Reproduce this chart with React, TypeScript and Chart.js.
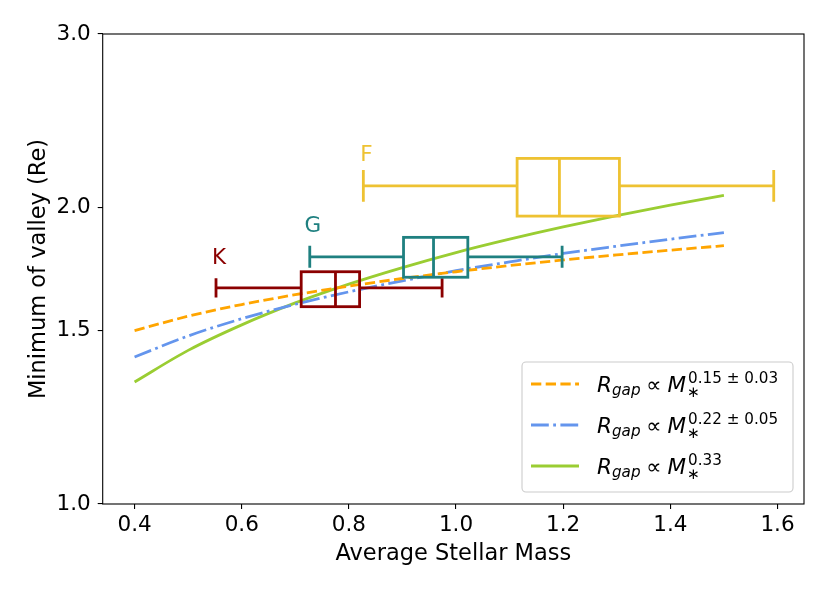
import React, { useEffect, useRef } from 'react';
import { Chart, registerables } from 'chart.js';
import type { Plugin } from 'chart.js';

Chart.register(...registerables);

// fit curves, sampled at these masses
const massSamples = [0.4, 0.5, 0.6, 0.7, 0.8, 0.9, 1.0, 1.1, 1.2, 1.3, 1.4, 1.5];
const fit015 = [1.500, 1.551, 1.594, 1.631, 1.664, 1.694, 1.721, 1.746, 1.769, 1.790, 1.810, 1.829];
const fit022 = [1.410, 1.481, 1.542, 1.595, 1.642, 1.685, 1.725, 1.761, 1.796, 1.827, 1.857, 1.886];
const fit033 = [1.330, 1.432, 1.520, 1.600, 1.672, 1.738, 1.800, 1.857, 1.911, 1.962, 2.011, 2.057];

const legendExponents = ['0.15 \u00b1 0.03', '0.22 \u00b1 0.05', '0.33'];

// horizontal box plots per spectral type
const boxLabels = ['K', 'G', 'F'];
const boxColors = ['#8B0000', '#1F8080', '#EEC232'];
const whiskerLow = [0.552, 0.727, 0.827];
const q1 = [0.711, 0.902, 1.114];
const median = [0.775, 0.958, 1.193];
const q3 = [0.820, 1.022, 1.305];
const whiskerHigh = [0.974, 1.198, 1.593];
const boxCenter = [1.657, 1.782, 2.104];
const boxTop = [1.721, 1.865, 2.243];
const boxBottom = [1.586, 1.699, 1.960];

const xTicks = [0.4, 0.6, 0.8, 1.0, 1.2, 1.4, 1.6];
const yTicks = [1.0, 1.5, 2.0, 3.0];

const FONT = '"DejaVu Sans", sans-serif';
const ORANGE = '#FFA500';
const BLUE = '#6495ED';
const GREEN = '#9ACD32';

const toPoints = (ys: number[]) => massSamples.map((x, i) => ({ x, y: ys[i] }));

const boxPlugin: Plugin<'line'> = {
  id: 'boxes',
  afterDatasetsDraw(chart) {
    const { ctx, scales } = chart;
    const x = scales.x;
    const y = scales.y;
    ctx.save();
    ctx.lineWidth = 2.8;
    ctx.lineCap = 'butt';
    ctx.lineJoin = 'miter';
    boxLabels.forEach((label, i) => {
      const yc = y.getPixelForValue(boxCenter[i]);
      const yt = y.getPixelForValue(boxTop[i]);
      const yb = y.getPixelForValue(boxBottom[i]);
      const capHalf = ((yb - yt) / 2) * 0.55;
      const xl = x.getPixelForValue(whiskerLow[i]);
      const x1 = x.getPixelForValue(q1[i]);
      const xm = x.getPixelForValue(median[i]);
      const x3 = x.getPixelForValue(q3[i]);
      const xh = x.getPixelForValue(whiskerHigh[i]);
      ctx.strokeStyle = boxColors[i];
      ctx.beginPath();
      ctx.moveTo(xl, yc); ctx.lineTo(x1, yc);
      ctx.moveTo(x3, yc); ctx.lineTo(xh, yc);
      ctx.moveTo(xl, yc - capHalf); ctx.lineTo(xl, yc + capHalf);
      ctx.moveTo(xh, yc - capHalf); ctx.lineTo(xh, yc + capHalf);
      ctx.moveTo(xm, yt); ctx.lineTo(xm, yb);
      ctx.stroke();
      ctx.strokeRect(x1, yt, x3 - x1, yb - yt);

      // type label just above the left cap
      ctx.fillStyle = boxColors[i];
      ctx.font = `21.5px ${FONT}`;
      ctx.textAlign = 'center';
      ctx.textBaseline = 'middle';
      ctx.fillText(label, xl + 3, yc - 30);
    });
    ctx.restore();
  },
};

const framePlugin: Plugin<'line'> = {
  id: 'frame',
  afterDraw(chart) {
    const { ctx, chartArea: a } = chart;
    ctx.save();
    ctx.strokeStyle = '#000';
    ctx.lineWidth = 1.1;
    ctx.strokeRect(a.left, a.top, a.right - a.left, a.bottom - a.top);

    // axis titles
    ctx.fillStyle = '#000';
    ctx.font = `22.5px ${FONT}`;
    ctx.textAlign = 'center';
    ctx.textBaseline = 'alphabetic';
    ctx.fillText('Average Stellar Mass', (a.left + a.right) / 2, 560);
    ctx.save();
    ctx.translate(45, (a.top + a.bottom) / 2);
    ctx.rotate(-Math.PI / 2);
    ctx.fillText('Minimum of valley (Re)', 0, 0);
    ctx.restore();

    // legend
    const lx = a.right - 282;
    const ly = a.bottom - 142;
    const lw = 271;
    const lh = 130;
    ctx.beginPath();
    ctx.roundRect(lx, ly, lw, lh, 4);
    ctx.fillStyle = 'rgba(255,255,255,0.8)';
    ctx.fill();
    ctx.strokeStyle = '#cccccc';
    ctx.lineWidth = 1.1;
    ctx.stroke();

    const styles = [
      { color: ORANGE, dash: [10.3, 4.4] },
      { color: BLUE, dash: [17.8, 4.4, 2.8, 4.4] },
      { color: GREEN, dash: [] as number[] },
    ];
    ctx.textAlign = 'left';
    legendExponents.forEach((exp, i) => {
      const base = ly + 30 + i * 41;
      ctx.strokeStyle = styles[i].color;
      ctx.lineWidth = 2.8;
      ctx.setLineDash(styles[i].dash);
      ctx.beginPath();
      ctx.moveTo(lx + 9, base - 8);
      ctx.lineTo(lx + 57, base - 8);
      ctx.stroke();
      ctx.setLineDash([]);

      ctx.fillStyle = '#000';
      let tx = lx + 75;
      ctx.font = `italic 21.5px ${FONT}`;
      ctx.fillText('R', tx, base);
      tx += ctx.measureText('R').width;
      ctx.font = `italic 15.2px ${FONT}`;
      ctx.fillText('gap', tx, base + 3);
      tx += ctx.measureText('gap').width + 5.8;
      ctx.font = `21.5px ${FONT}`;
      ctx.fillText('\u221d', tx, base);
      tx += ctx.measureText('\u221d').width + 5.8;
      ctx.font = `italic 21.5px ${FONT}`;
      ctx.fillText('M', tx, base);
      tx += ctx.measureText('M').width;
      ctx.font = `15.2px ${FONT}`;
      ctx.fillText(exp, tx + 2, base - 9);
      ctx.fillText('\u2217', tx + 1, base + 5);
    });
    ctx.restore();
  },
};

const App: React.FC = () => {
  const canvasRef = useRef<HTMLCanvasElement | null>(null);
  const chartRef = useRef<Chart | null>(null);

  useEffect(() => {
    if (!canvasRef.current) return;
    if (chartRef.current) chartRef.current.destroy();

    const tickFont = { family: FONT, size: 21.5 };
    const gridOpts = {
      display: true,
      drawOnChartArea: false,
      drawTicks: true,
      tickLength: 5,
      color: '#000',
      lineWidth: 1.1,
    };

    chartRef.current = new Chart(canvasRef.current, {
      type: 'line',
      data: {
        datasets: [
          {
            data: toPoints(fit015),
            borderColor: ORANGE,
            borderWidth: 2.8,
            borderDash: [10.3, 4.4],
            pointRadius: 0,
            cubicInterpolationMode: 'monotone',
          },
          {
            data: toPoints(fit022),
            borderColor: BLUE,
            borderWidth: 2.8,
            borderDash: [17.8, 4.4, 2.8, 4.4],
            pointRadius: 0,
            cubicInterpolationMode: 'monotone',
          },
          {
            data: toPoints(fit033),
            borderColor: GREEN,
            borderWidth: 2.8,
            pointRadius: 0,
            cubicInterpolationMode: 'monotone',
          },
        ],
      },
      options: {
        responsive: false,
        animation: false,
        devicePixelRatio: 1,
        layout: { padding: { top: 34, right: 26, left: 0, bottom: 0 } },
        plugins: { legend: { display: false }, tooltip: { enabled: false } },
        scales: {
          x: {
            type: 'linear',
            min: 0.3405,
            max: 1.6495,
            grid: gridOpts,
            border: { display: false },
            afterBuildTicks: (scale) => {
              scale.ticks = xTicks.map((v) => ({ value: v }));
            },
            afterFit: (scale) => {
              scale.height = 89;
            },
            ticks: {
              font: tickFont,
              color: '#000',
              padding: 4,
              maxRotation: 0,
              callback: (v) => Number(v).toFixed(1),
            },
          },
          y: {
            type: 'logarithmic',
            min: 1,
            max: 3,
            grid: gridOpts,
            border: { display: false },
            afterBuildTicks: (scale) => {
              scale.ticks = yTicks.map((v) => ({ value: v }));
            },
            afterFit: (scale) => {
              scale.width = 102.7;
            },
            ticks: {
              font: tickFont,
              color: '#000',
              padding: 7,
              callback: (v) => Number(v).toFixed(1),
            },
          },
        },
      },
      plugins: [boxPlugin, framePlugin],
    });

    return () => {
      if (chartRef.current) {
        chartRef.current.destroy();
        chartRef.current = null;
      }
    };
  }, []);

  return (
    <div style={{ position: 'absolute', left: 0, top: 0, width: 830, height: 593, background: '#fff' }}>
      <canvas ref={canvasRef} width={830} height={593} style={{ display: 'block' }} />
    </div>
  );
};

export default App;
